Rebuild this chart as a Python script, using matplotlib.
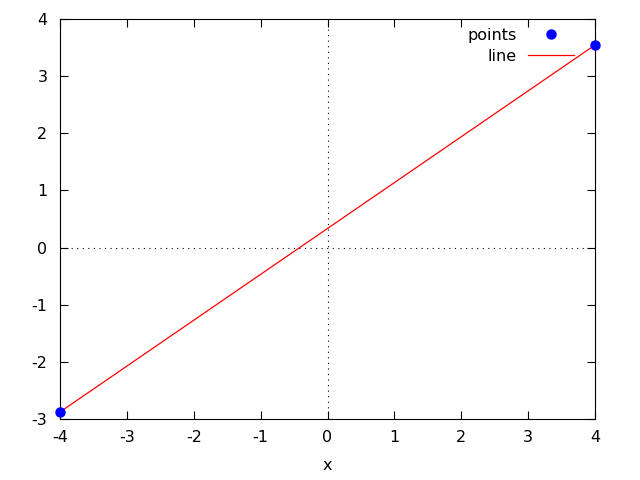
import matplotlib
matplotlib.use("Agg")
import matplotlib.pyplot as plt

# data
points_x = [-4.0, 4.0]
points_y = [-2.877, 3.545]
line_x = [-4.0, 4.0]
line_y = [-2.877, 3.545]
xticks = [-4, -3, -2, -1, 0, 1, 2, 3, 4]
yticks = [-3, -2, -1, 0, 1, 2, 3, 4]

plt.rcParams['font.family'] = ['DejaVu Sans']
plt.rcParams['font.size'] = 11.5

fig = plt.figure(figsize=(6.4, 4.8), dpi=100)
ax = fig.add_axes([60 / 640, 61 / 480, 535 / 640, 400 / 480])

ax.axhline(0, color='black', lw=0.8, ls=(0, (1, 4)))
ax.axvline(0, color='black', lw=0.8, ls=(0, (1, 4)))

ax.plot(points_x, points_y, 'o', color='blue', ms=6.5, label='points', clip_on=False, zorder=3)
ax.plot(line_x, line_y, '-', color='red', lw=0.9, label='line', clip_on=False, zorder=2)

ax.set_xlim(-4, 4)
ax.set_ylim(-3, 4)
ax.set_xticks(xticks)
ax.set_yticks(yticks)
ax.set_xticklabels([str(t) for t in xticks])
ax.set_yticklabels([str(t) for t in yticks])
ax.tick_params(direction='in', top=True, right=True, length=6, width=0.8, pad=9)
ax.tick_params(axis='x', pad=8)
ax.set_xlabel('x', labelpad=9)

leg = ax.legend(loc='upper right', bbox_to_anchor=(0.9607, 0.978), frameon=False,
                markerfirst=False, handlelength=2.9, handletextpad=0.7,
                labelspacing=0.38, borderpad=0, borderaxespad=0)
for t in leg.get_texts():
    t.set_ha('right')

fig.savefig('out.png', dpi=100)
